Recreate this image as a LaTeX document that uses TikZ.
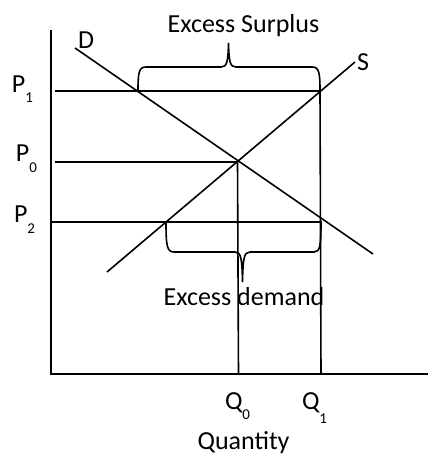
\documentclass[tikz,border=0pt]{standalone}
\usepackage{fontspec}
\setmainfont{Carlito}
\newcommand{\mylow}[2]{\raisebox{-#1pt}{\fontsize{15}{15}\selectfont #2}}
\tikzset{
  lbl/.style={inner sep=0pt, outer sep=0pt, font=\fontsize{26}{28}\selectfont},
  axisline/.style={line width=2pt},
  curveline/.style={line width=1.6pt},
  guide/.style={line width=1.6pt},
  bracepath/.style={line width=1.6pt},
}
\begin{document}
\begin{tikzpicture}[x=1pt,y=-1pt]
\useasboundingbox (0,0) rectangle (428,455);
% coordinates
\coordinate (ytop) at (51,30);
\coordinate (orig) at (51,374);
\coordinate (xend) at (428,374);
\coordinate (D1) at (75,48);
\coordinate (D2) at (373,254);
\coordinate (S1) at (107,272);
\coordinate (S2) at (355,62);
\coordinate (E) at (237.5,162);
\coordinate (p1s) at (55,91);
\coordinate (p1e) at (320,91);
\coordinate (p0s) at (55,162);
\coordinate (p2s) at (51,222);
\coordinate (p2e) at (322,222);
\coordinate (q0b) at (238.5,374);
\coordinate (q1b) at (321,374);
% axes
\draw[axisline] (ytop) -- (orig) -- (xend);
% guide lines
\draw[guide] (p1s) -- (p1e);
\draw[guide] (p0s) -- (E);
\draw[guide] (p2s) -- (p2e);
\draw[guide] (E) -- (q0b);
\draw[guide] (p1e) -- (q1b);
% demand and supply
\draw[curveline] (D1) -- (D2);
\draw[curveline] (S1) -- (S2);
% top brace
\draw[bracepath] (138,91) .. controls (138,72) and (139,67) .. (146,67) -- (221,67)
  .. controls (227,67) and (228,62) .. (228.5,43)
  .. controls (229,62) and (230,67) .. (236,67) -- (312,67)
  .. controls (319,67) and (320,72) .. (320,91);
% bottom brace
\draw[bracepath] (166,222) .. controls (166,246) and (167,252) .. (174,252) -- (235,252)
  .. controls (241,252) and (242,258) .. (242.5,282)
  .. controls (243,258) and (244,252) .. (250,252) -- (314,252)
  .. controls (320,252) and (321,246) .. (321,222);
% labels
\node[lbl, anchor=base] (surplus) at (243.5,32) {Excess Surplus};
\node[lbl, anchor=base] (demand) at (244,305) {Excess demand};
\node[lbl, anchor=base] (quantity) at (243.5,449) {Quantity};
\node[lbl, anchor=base west] (Dlab) at (78,48) {D};
\node[lbl, anchor=base west] (Slab) at (357,70) {S};
\node[lbl, anchor=base west] (P1) at (12,92) {P\mylow{10}{1}};
\node[lbl, anchor=base west] (P0) at (16,161) {P\mylow{11}{0}};
\node[lbl, anchor=base west] (P2) at (14,222) {P\mylow{11}{2}};
\node[lbl, anchor=base west] (Q0) at (225,409) {Q\mylow{10}{0}};
\node[lbl, anchor=base west] (Q1) at (302,409) {Q\mylow{14}{1}};
\end{tikzpicture}
\end{document}
